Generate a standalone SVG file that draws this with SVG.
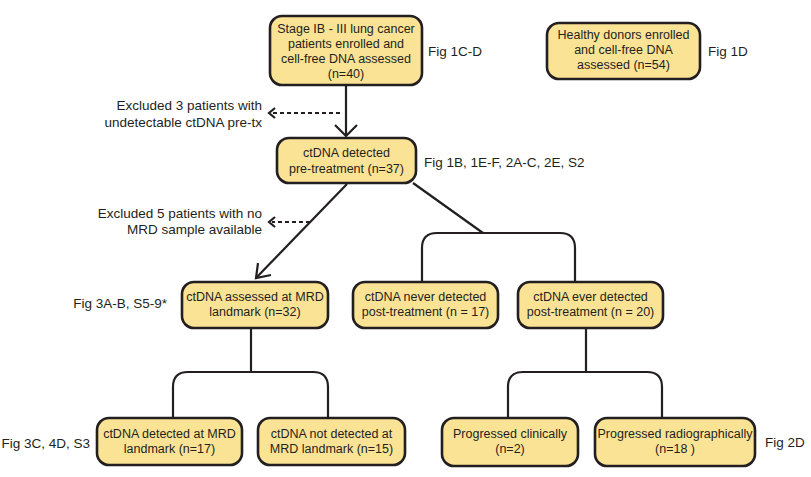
<svg xmlns="http://www.w3.org/2000/svg" width="811" height="477" viewBox="0 0 811 477">
<style>
.box{fill:#fbe395;stroke:#231f20;stroke-width:2.6}
.t{font-family:"Liberation Sans",Arial,sans-serif;font-size:12.5px;fill:#231f20}
.s{font-size:13.5px}
.c{text-anchor:middle}
.r{text-anchor:end}
.ln{fill:none;stroke:#231f20;stroke-width:2.2}
.dash{fill:none;stroke:#231f20;stroke-width:2.2;stroke-dasharray:4 3}
</style>
<rect width="811" height="477" fill="#ffffff"/>
<g id="connectors">
<line class="ln" x1="346" y1="85" x2="346" y2="136"/>
<polyline class="ln" points="335,125 346,136 357,125"/>
<line class="dash" x1="340" y1="113" x2="272" y2="113"/>
<polyline class="ln" points="275,108 269,113 275,118"/>
<line class="ln" x1="347" y1="184" x2="256" y2="278"/>
<polyline class="ln" points="258,263 256,278 271,275"/>
<line class="dash" x1="310" y1="222" x2="272" y2="222"/>
<polyline class="ln" points="275,217 269,222 275,227"/>
<line class="ln" x1="413" y1="183" x2="483" y2="233"/>
<path class="ln" d="M422,282 V248 Q422,233 437,233 H560 Q575,233 575,248 V282"/>
<line class="ln" x1="251" y1="328" x2="251" y2="372"/>
<path class="ln" d="M173,418 V387 Q173,372 188,372 H313 Q328,372 328,387 V418"/>
<line class="ln" x1="586" y1="328" x2="586" y2="372"/>
<path class="ln" d="M508,418 V387 Q508,372 523,372 H647 Q662,372 662,387 V418"/>
</g>
<g id="n1">
<rect class="box" x="270" y="16" width="152" height="69" rx="12"/>
<text class="t c" x="346" y="33">Stage IB - III lung cancer</text>
<text class="t c" x="346" y="48">patients enrolled and</text>
<text class="t c" x="346" y="63">cell-free DNA assessed</text>
<text class="t c" x="346" y="78">(n=40)</text>
</g>
<text class="t s" x="428" y="56">Fig 1C-D</text>
<g id="n2">
<rect class="box" x="547" y="23" width="153" height="56" rx="12"/>
<text class="t c" x="623.5" y="39">Healthy donors enrolled</text>
<text class="t c" x="623.5" y="54">and cell-free DNA</text>
<text class="t c" x="623.5" y="69">assessed (n=54)</text>
</g>
<text class="t s" x="708" y="56">Fig 1D</text>
<text class="t s r" x="262" y="110">Excluded 3 patients with</text>
<text class="t s r" x="262" y="127">undetectable ctDNA pre-tx</text>
<g id="n3">
<rect class="box" x="277" y="138" width="139" height="45" rx="12"/>
<text class="t c" x="346.5" y="157">ctDNA detected</text>
<text class="t c" x="346.5" y="173">pre-treatment (n=37)</text>
</g>
<text class="t s" x="424" y="167">Fig 1B, 1E-F, 2A-C, 2E, S2</text>
<text class="t s r" x="262" y="218">Excluded 5 patients with no</text>
<text class="t s r" x="262" y="234">MRD sample available</text>
<g id="n4">
<rect class="box" x="182" y="282" width="146" height="46" rx="12"/>
<text class="t c" x="255" y="301">ctDNA assessed at MRD</text>
<text class="t c" x="255" y="316">landmark (n=32)</text>
</g>
<text class="t s r" x="167" y="308">Fig 3A-B, S5-9*</text>
<g id="n5">
<rect class="box" x="353" y="282" width="145" height="46" rx="12"/>
<text class="t c" x="425.5" y="301">ctDNA never detected</text>
<text class="t c" x="425.5" y="316">post-treatment (n = 17)</text>
</g>
<g id="n6">
<rect class="box" x="518" y="282" width="145" height="46" rx="12"/>
<text class="t c" x="590.5" y="301">ctDNA ever detected</text>
<text class="t c" x="590.5" y="316">post-treatment (n = 20)</text>
</g>
<g id="n7">
<rect class="box" x="97" y="418" width="145" height="47" rx="12"/>
<text class="t c" x="169.5" y="438">ctDNA detected at MRD</text>
<text class="t c" x="169.5" y="453">landmark (n=17)</text>
</g>
<text class="t s r" x="90" y="448">Fig 3C, 4D, S3</text>
<g id="n8">
<rect class="box" x="258" y="418" width="147" height="47" rx="12"/>
<text class="t c" x="331.5" y="438">ctDNA not detected at</text>
<text class="t c" x="331.5" y="453">MRD landmark (n=15)</text>
</g>
<g id="n9">
<rect class="box" x="442" y="418" width="136" height="48" rx="12"/>
<text class="t c" x="510" y="438">Progressed clinically</text>
<text class="t c" x="510" y="453">(n=2)</text>
</g>
<g id="n10">
<rect class="box" x="595" y="418" width="160" height="48" rx="12"/>
<text class="t c" x="675" y="438">Progressed radiographically</text>
<text class="t c" x="675" y="453">(n=18 )</text>
</g>
<text class="t s" x="765" y="447">Fig 2D</text>
</svg>
